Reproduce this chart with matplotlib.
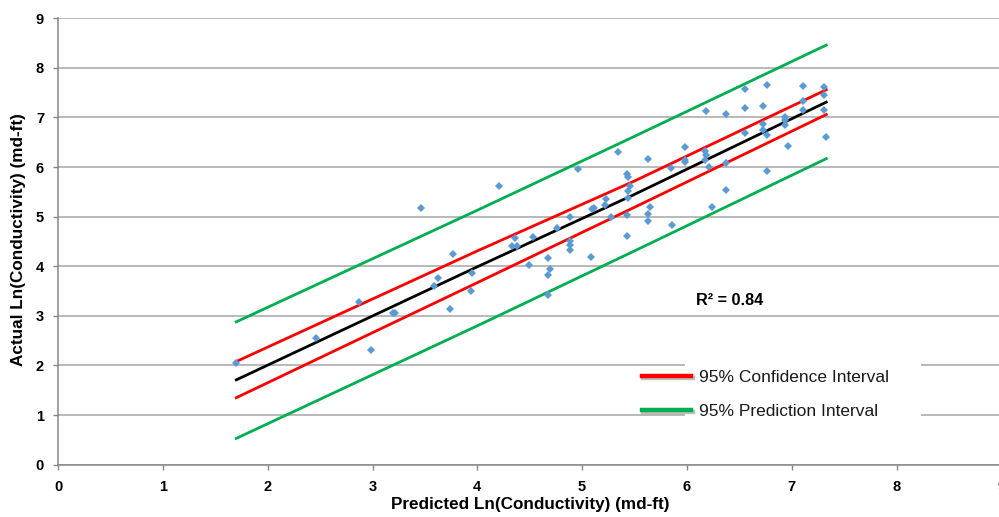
import matplotlib
matplotlib.use("Agg")
import matplotlib.pyplot as plt
import matplotlib.patheffects as pe
from matplotlib.lines import Line2D
from matplotlib.patches import Rectangle

plt.rcParams['font.family'] = ['Liberation Sans', 'DejaVu Sans']

# Observed points: predicted vs actual ln(conductivity)
predicted = [1.70, 2.46, 2.87, 2.99, 3.20, 3.21, 3.46, 3.62, 3.59, 4.21,
             4.96, 3.77, 3.95, 3.94, 3.74, 4.36, 4.33, 4.38, 4.53, 4.49,
             4.67, 4.69, 4.67, 4.67, 4.76, 4.88, 4.88, 4.88, 4.88, 5.08,
             5.09, 5.11, 6.18, 5.34, 5.63, 5.98, 6.17, 6.18, 6.17, 5.98,
             5.98, 6.21, 5.85, 5.43, 5.44, 5.46, 5.44, 5.44, 5.23, 5.22,
             5.28, 5.43, 5.65, 5.63, 5.63, 5.43, 5.86, 6.24, 6.76, 6.55,
             7.11, 7.31, 7.31, 7.31, 7.33, 7.11, 6.73, 6.55, 6.37, 6.94,
             6.94, 6.94, 6.73, 6.73, 6.76, 6.55, 6.96, 6.37, 6.76, 6.37,
             7.11]
actual = [2.06, 2.55, 3.27, 2.31, 3.06, 3.05, 5.18, 3.77, 3.60, 5.62,
          5.97, 4.25, 3.87, 3.50, 3.14, 4.58, 4.41, 4.41, 4.60, 4.02,
          4.17, 3.94, 3.82, 3.42, 4.77, 4.99, 4.50, 4.43, 4.33, 4.18,
          5.15, 5.18, 7.13, 6.30, 6.16, 6.40, 6.33, 6.24, 6.14, 6.14,
          6.10, 6.01, 5.99, 5.87, 5.81, 5.62, 5.52, 5.38, 5.36, 5.24,
          5.00, 5.03, 5.19, 5.05, 4.92, 4.61, 4.83, 5.20, 7.65, 7.57,
          7.64, 7.61, 7.45, 7.16, 6.61, 7.15, 7.24, 7.20, 7.07, 7.02,
          6.95, 6.85, 6.86, 6.75, 6.65, 6.69, 6.43, 6.08, 5.93, 5.54,
          7.34]

# Regression line and interval bands
band_x = [1.70, 4.00, 5.50, 7.33]
fit_y = [1.71, 3.99, 5.45, 7.31]
conf_upper = [2.08, 4.31, 5.72, 7.56]
conf_lower = [1.35, 3.67, 5.19, 7.06]
pred_upper = [2.88, 5.13, 6.62, 8.46]
pred_lower = [0.53, 2.80, 4.31, 6.17]

x_ticks = list(range(10))
y_ticks = list(range(10))
r_squared = 0.84

RED = '#FF0000'
GREEN = '#00B050'
BLUE = '#5B9BD5'
GRID = '#A6A6A6'
AXIS = '#868686'

fig = plt.figure(figsize=(9.99, 5.17), dpi=100)
ax = fig.add_axes([0.0582, 0.1012, 0.9441, 0.8634])
ax.set_xlim(0, 9)
ax.set_ylim(0, 9)

ax.set_axisbelow(True)
ax.yaxis.grid(True, color=GRID, lw=1.1)
ax.xaxis.grid(False)
for side in ('top', 'right'):
    ax.spines[side].set_visible(False)
for side in ('left', 'bottom'):
    ax.spines[side].set_color(AXIS)
    ax.spines[side].set_linewidth(1.1)

ax.set_xticks(x_ticks)
ax.set_yticks(y_ticks)
ax.tick_params(axis='both', direction='out', length=3.6, width=1, color=AXIS,
               labelsize=10.5, labelcolor='#000000')
ax.tick_params(axis='y', pad=6.5)
ax.tick_params(axis='x', pad=7.5)
for lab in ax.get_xticklabels() + ax.get_yticklabels():
    lab.set_fontweight('bold')

lw = 2.0
ax.plot(band_x, pred_upper, color=GREEN, lw=lw, zorder=2)
ax.plot(band_x, pred_lower, color=GREEN, lw=lw, zorder=2)
ax.plot(band_x, conf_upper, color=RED, lw=lw, zorder=2)
ax.plot(band_x, conf_lower, color=RED, lw=lw, zorder=2)
ax.plot(band_x, fit_y, color='black', lw=lw, zorder=2)

ax.plot(predicted, actual, linestyle='none', marker='D', markersize=4.2,
        color=BLUE, markeredgewidth=0, zorder=3)

ax.text(6.09, 3.32, f'R\u00b2 = {r_squared:.2f}', fontsize=11.7, fontweight='bold',
        ha='left', va='center', zorder=4)

# White block behind the interval key
ax.add_patch(Rectangle((5.98, 0.5), 2.25, 1.82, facecolor='white',
                       edgecolor='none', zorder=1))

shadow = [pe.SimpleLineShadow(offset=(0.8, -1.2), shadow_color='#808080', alpha=0.5),
          pe.Normal()]
handles = [Line2D([], [], color=RED, lw=3.2, path_effects=shadow),
           Line2D([], [], color=GREEN, lw=3.2, path_effects=shadow)]
labels = ['95% Confidence Interval', '95% Prediction Interval']
fig.legend(handles, labels, loc='upper left',
           bbox_to_anchor=(642 / 999, 1 - 370 / 517), frameon=False,
           prop={'size': 12.5}, handlelength=2.85, handletextpad=0.45,
           labelspacing=1.1, borderpad=0, borderaxespad=0,
           labelcolor='#1A1A1A')

fig.text(530 / 999, 1 - 505 / 517, 'Predicted Ln(Conductivity) (md-ft)',
         fontsize=12.3, fontweight='bold', ha='center', va='center')
fig.text(19 / 999, 1 - 240 / 517, 'Actual Ln(Conductivity) (md-ft)',
         fontsize=12.3, fontweight='bold', ha='center', va='center', rotation=90)

fig.savefig('out.png', dpi=100)
